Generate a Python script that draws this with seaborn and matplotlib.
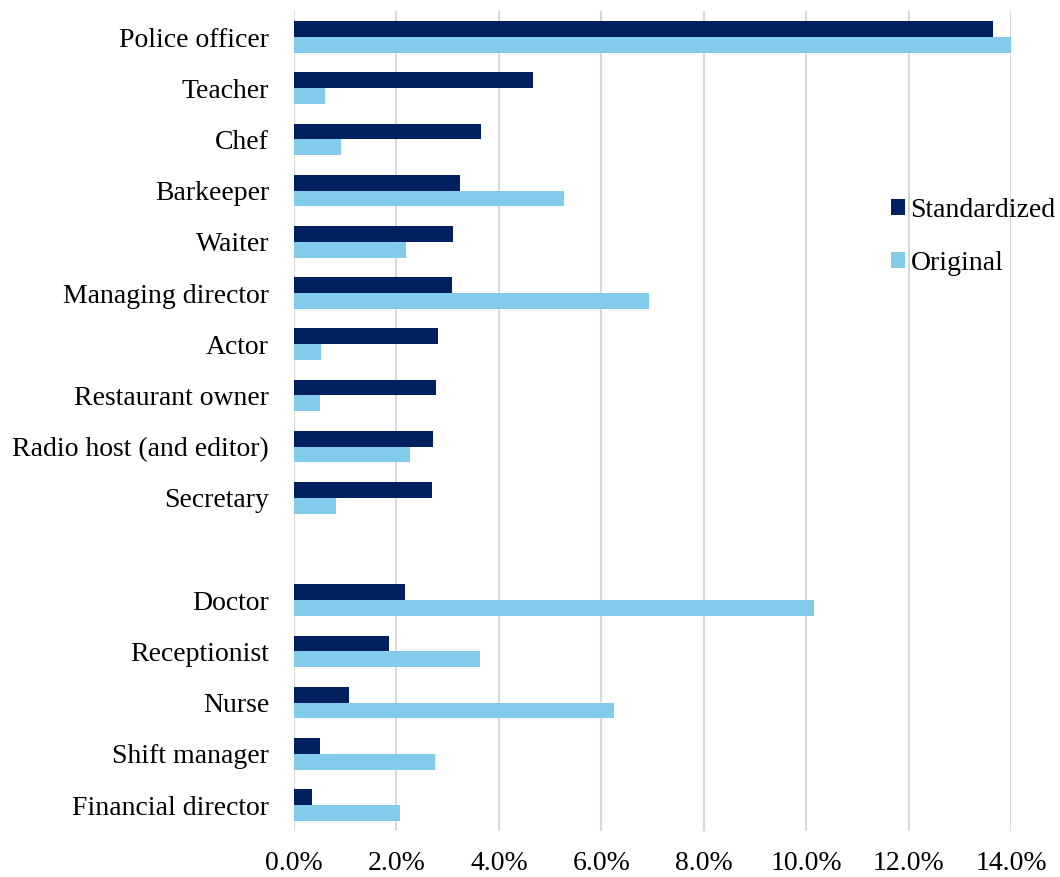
import matplotlib
matplotlib.use("Agg")
import matplotlib.pyplot as plt
import seaborn as sns
import pandas as pd
from matplotlib.patches import Patch

plt.rcParams["font.family"] = ["Liberation Serif", "DejaVu Serif"]

# Occupations (a blank slot separates the two groups)
occupations = [
    "Police officer", "Teacher", "Chef", "Barkeeper", "Waiter",
    "Managing director", "Actor", "Restaurant owner",
    "Radio host (and editor)", "Secretary", " ",
    "Doctor", "Receptionist", "Nurse", "Shift manager", "Financial director",
]

# Shares in percent, one entry per occupation (None for the blank slot)
standardized = [13.64, 4.67, 3.65, 3.24, 3.10, 3.09, 2.82, 2.77, 2.72, 2.70,
                None, 2.17, 1.85, 1.07, 0.50, 0.35]
original = [14.05, 0.61, 0.92, 5.27, 2.18, 6.93, 0.52, 0.51, 2.27, 0.82,
            None, 10.16, 3.63, 6.25, 2.76, 2.06]

series_names = ["Standardized", "Original"]
series_colors = ["#002060", "#83CBEB"]
x_ticks = [0, 2, 4, 6, 8, 10, 12, 14]

rows = []
for occ, s, o in zip(occupations, standardized, original):
    if s is not None:
        rows.append({"occupation": occ, "series": series_names[0], "share": s})
    if o is not None:
        rows.append({"occupation": occ, "series": series_names[1], "share": o})
df = pd.DataFrame(rows)

fig = plt.figure(figsize=(10.6, 8.77), dpi=100)
ax = fig.add_axes([0.2774, 0.0529, 0.9538 - 0.2774, 0.987 - 0.0529])

sns.barplot(
    data=df, y="occupation", x="share", hue="series",
    order=occupations, hue_order=series_names, palette=series_colors,
    orient="h", width=0.62, saturation=1, errorbar=None, ax=ax, legend=False,
)

ax.set_xlim(0, 14)
ax.set_ylim(len(occupations) - 0.5, -0.5)
ax.set_xticks(x_ticks)
ax.set_xticklabels([f"{t:.1f}%" for t in x_ticks])
ax.set_xlabel("")
ax.set_ylabel("")

for side in ["top", "right", "bottom", "left"]:
    ax.spines[side].set_visible(False)
ax.set_axisbelow(True)
ax.grid(axis="x", color="#D9D9D9", linewidth=1.5)
ax.grid(axis="y", visible=False)

ax.tick_params(axis="y", length=0, pad=18, labelsize=20)
ax.tick_params(axis="x", length=0, pad=15, labelsize=20)

handles = [Patch(facecolor=c, edgecolor="none") for c in series_colors]
fig.legend(
    handles, series_names, loc="center left",
    bbox_to_anchor=(891 / 1060, 1 - 237 / 877), bbox_transform=fig.transFigure,
    frameon=False, fontsize=20, handlelength=0.5, handleheight=0.5,
    handletextpad=0.2, labelspacing=1.0, borderpad=0, borderaxespad=0,
)

fig.savefig("out.png", dpi=100)
